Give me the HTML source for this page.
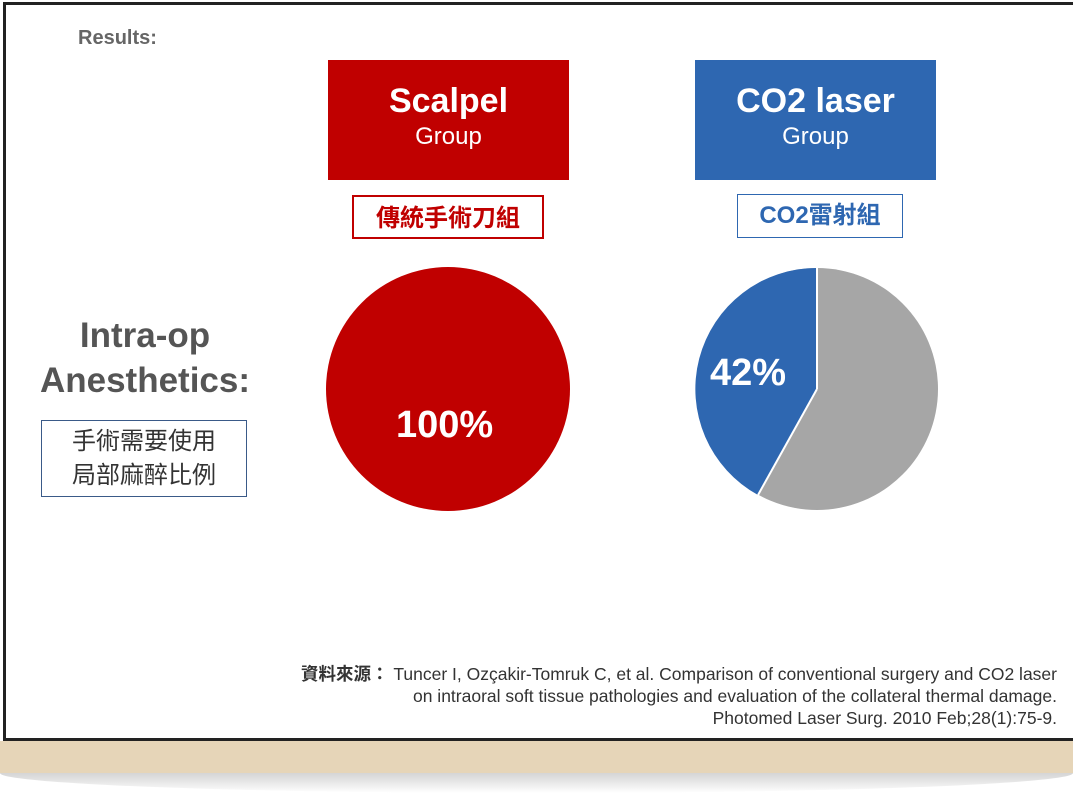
<!DOCTYPE html>
<html><head><meta charset="utf-8"><style>
body{margin:0;width:1073px;height:812px;overflow:hidden;background:#fff;position:relative;font-family:"Liberation Sans","Noto Sans CJK TC",sans-serif}
.a{position:absolute}
</style></head><body>
<div class="a" style="left:3px;top:2px;width:1075px;height:733px;border:3px solid #222;background:#fff"></div>
<div class="a" style="left:0;top:741px;width:1073px;height:32px;background:#e6d5b8"></div>
<div class="a" style="left:0;top:773px;width:1073px;height:20px;background:linear-gradient(#aaa,#fff);border-radius:0 0 50% 50%/0 0 100% 100%;opacity:.5"></div>
<div class="a" style="left:78px;top:27px;font-size:20px;font-weight:bold;color:#666">Results:</div>
<div class="a" style="left:328px;top:60px;width:241px;height:120px;background:#c00000;color:#fff;text-align:center">
<div style="font-size:34px;font-weight:bold;margin-top:22px">Scalpel</div><div style="font-size:24px;margin-top:2px">Group</div></div>
<div class="a" style="left:695px;top:60px;width:241px;height:120px;background:#2e67b1;color:#fff;text-align:center">
<div style="font-size:34px;font-weight:bold;margin-top:22px">CO2 laser</div><div style="font-size:24px;margin-top:2px">Group</div></div>
<div class="a" style="left:352px;top:195px;width:192px;height:44px;border:2px solid #c00000;color:#c00000;font-size:24px;font-weight:bold;text-align:center;line-height:44px;box-sizing:border-box">傳統手術刀組</div>
<div class="a" style="left:737px;top:194px;width:166px;height:44px;border:1.5px solid #2e67b1;color:#2e67b1;font-size:24px;font-weight:bold;text-align:center;line-height:42px;box-sizing:border-box">CO2雷射組</div>
<div class="a" style="left:20px;top:313px;width:250px;text-align:center;font-size:35px;font-weight:bold;color:#555;line-height:45px">Intra-op<br>Anesthetics:</div>
<div class="a" style="left:41px;top:420px;width:206px;height:77px;border:1.5px solid #3a5a88;box-sizing:border-box;font-size:24px;color:#333;text-align:center;line-height:34px;padding-top:4px">手術需要使用<br>局部麻醉比例</div>
<svg class="a" style="left:0;top:0" width="1073" height="812">
<circle cx="448" cy="389" r="122" fill="#c00000"/>
<circle cx="817" cy="389" r="121" fill="#a6a6a6"/>
<path d="M817,389 L817,268 A121,121 0 0 0 758,495 Z" fill="#2e67b1"/>
<line x1="817" y1="389" x2="817" y2="268" stroke="#fff" stroke-width="2"/>
<line x1="817" y1="389" x2="758" y2="495" stroke="#fff" stroke-width="2"/>
</svg>
<div class="a" style="left:396px;top:404px;font-size:38px;font-weight:bold;color:#fff">100%</div>
<div class="a" style="left:710px;top:352px;font-size:38px;font-weight:bold;color:#fff">42%</div>
<div class="a" style="right:16px;top:663px;text-align:right;font-size:17.5px;color:#333;line-height:22px"><b>資料來源：</b> Tuncer I, Ozçakir-Tomruk C, et al. Comparison of conventional surgery and CO2 laser<br>on intraoral soft tissue pathologies and evaluation of the collateral thermal damage.<br>Photomed Laser Surg. 2010 Feb;28(1):75-9.</div>
</body></html>
